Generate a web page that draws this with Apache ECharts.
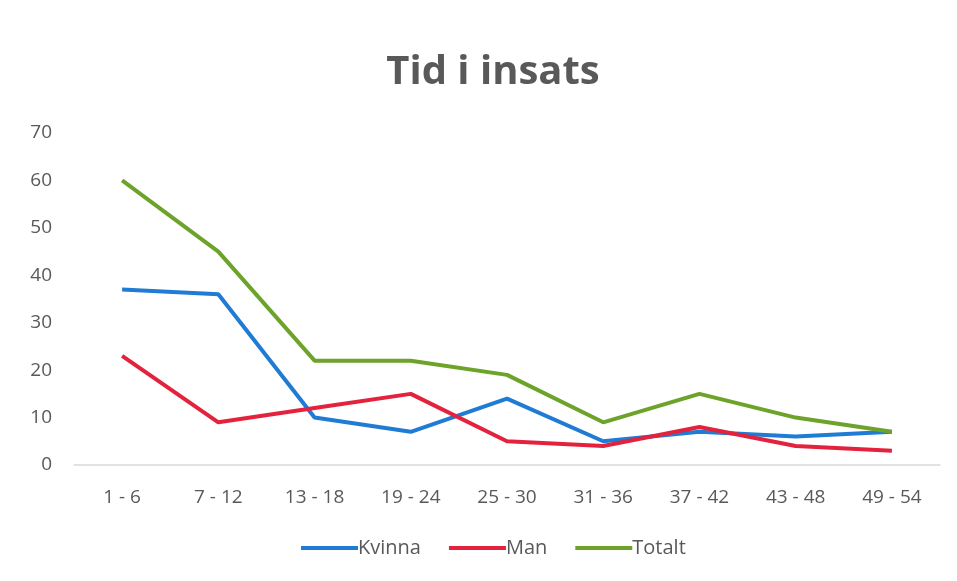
<!DOCTYPE html>
<html>
<head>
<meta charset="utf-8">
<script src="https://cdn.jsdelivr.net/npm/echarts@6/dist/echarts.min.js"></script>
<style>
  html, body { margin: 0; padding: 0; background: #fff; }
  #chart { width: 957px; height: 581px; }
</style>
</head>
<body>
<div id="chart"></div>
<script>
// Tid i insats
const categories = ["1 - 6", "7 - 12", "13 - 18", "19 - 24", "25 - 30", "31 - 36", "37 - 42", "43 - 48", "49 - 54"];
const kvinna = [37, 36, 10, 7, 14, 5, 7, 6, 7];
const man = [23, 9, 12, 15, 5, 4, 8, 4, 3];
const totalt = [60, 45, 22, 22, 19, 9, 15, 10, 7];

const textColor = "#595959";
const font = "'Open Sans', 'Noto Sans', sans-serif";

const option = {
  backgroundColor: "#fff",
  title: {
    text: "Tid i insats",
    top: 48,
    left: 488,
    textAlign: "center",
    textStyle: {
      color: textColor,
      fontSize: 40,
      fontWeight: "bold",
      fontFamily: font,
    },
  },
  legend: {
    bottom: 18,
    left: 296,
    itemWidth: 57,
    itemHeight: 4,
    itemGap: 28,
    icon: "rect",
    textStyle: {
      color: textColor,
      fontSize: 20,
      fontFamily: font,
      padding: [0, 0, 0, -5],
    },
    data: ["Kvinna", "Man", "Totalt"],
  },
  grid: {
    left: 74,
    right: 17,
    top: 133,
    bottom: 116,
  },
  xAxis: {
    type: "category",
    data: categories,
    axisTick: { show: false },
    axisLine: {
      lineStyle: { color: "#d9d9d9", width: 1.5 },
    },
    axisLabel: {
      color: textColor,
      fontSize: 19,
      fontFamily: font,
      margin: 23,
    },
  },
  yAxis: {
    type: "value",
    min: 0,
    max: 70,
    interval: 10,
    axisLine: { show: false },
    axisTick: { show: false },
    splitLine: { show: false },
    axisLabel: {
      color: textColor,
      fontSize: 19,
      fontFamily: font,
      margin: 22,
    },
  },
  series: [
    {
      name: "Kvinna",
      type: "line",
      data: kvinna,
      symbol: "none",
      lineStyle: { color: "#1f7bd3", width: 4 },
      itemStyle: { color: "#1f7bd3" },
    },
    {
      name: "Man",
      type: "line",
      data: man,
      symbol: "none",
      lineStyle: { color: "#e3223d", width: 4 },
      itemStyle: { color: "#e3223d" },
    },
    {
      name: "Totalt",
      type: "line",
      data: totalt,
      symbol: "none",
      lineStyle: { color: "#6da32a", width: 4 },
      itemStyle: { color: "#6da32a" },
    },
  ],
};

const chart = echarts.init(document.getElementById("chart"), null, { renderer: "canvas" });
chart.setOption(option);
</script>
</body>
</html>
